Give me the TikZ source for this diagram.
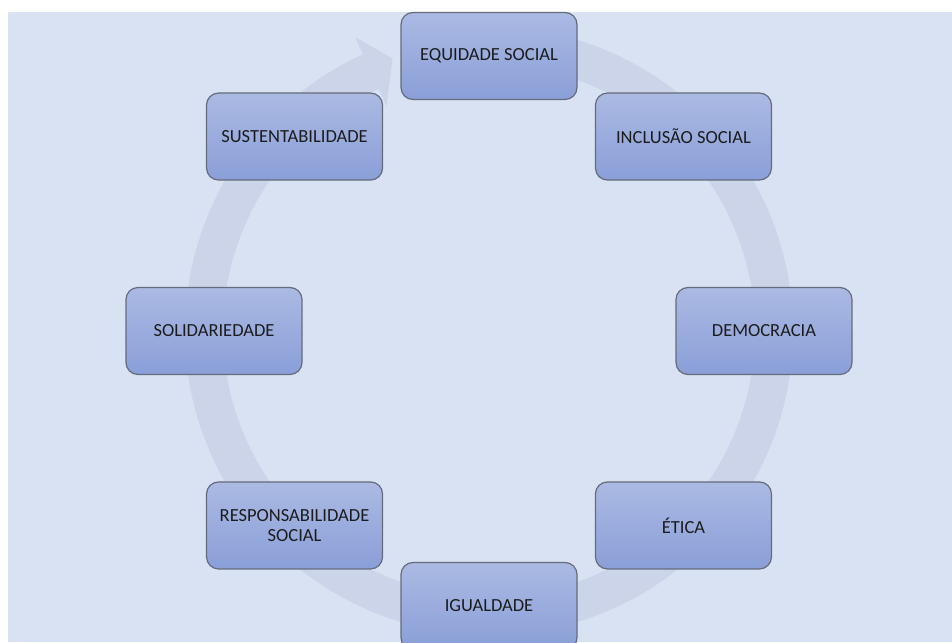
\documentclass[tikz,border=0pt]{standalone}
\usepackage{fontspec}
\setmainfont{Carlito}
\definecolor{bgc}{HTML}{D9E2F2}
\definecolor{ringc}{HTML}{CCD4EA}
\definecolor{boxtop}{HTML}{ABBAE3}
\definecolor{boxbot}{HTML}{8A9FD8}
\definecolor{boxline}{HTML}{646C7C}
\definecolor{txtc}{HTML}{1C1C1C}
\begin{document}
\begin{tikzpicture}[x=1pt,y=1pt,
  item/.style={draw=boxline, line width=1.2pt, rounded corners=12pt,
    top color=boxtop, bottom color=boxbot,
    minimum width=176pt, minimum height=87pt, inner sep=2pt,
    align=center, text=txtc, font=\fontsize{18.5}{20}\selectfont}]
\useasboundingbox (0,0) rectangle (952,642);
\clip (0,0) rectangle (952,642);
\fill[white] (0,0) rectangle (952,642);
\fill[bgc] (8,0) rectangle (952,630);
\coordinate (C) at (489,311);
% circular arrow
\fill[ringc] ([shift={(489,311)}]85:304) arc[start angle=85, end angle=-245.5, radius=304]
  -- ([shift={(489,311)}]-245.5:323)
  -- ([shift={(489,311)}]-250.5:289)
  -- ([shift={(489,311)}]-245.5:247)
  -- ([shift={(489,311)}]-245.5:266)
  arc[start angle=-245.5, end angle=85, radius=266] -- cycle;
% boxes
\node[item] (eq)  at ([shift={(C)}]90:275)  {EQUIDADE SOCIAL};
\node[item] (inc) at ([shift={(C)}]45:275)  {INCLUSÃO SOCIAL};
\node[item] (dem) at ([shift={(C)}]0:275)   {DEMOCRACIA};
\node[item] (eti) at ([shift={(C)}]-45:275) {ÉTICA};
\node[item] (igu) at ([shift={(C)}]-90:275) {IGUALDADE};
\node[item] (res) at ([shift={(C)}]-135:275) {RESPONSABILIDADE\\SOCIAL};
\node[item] (sol) at ([shift={(C)}]180:275) {SOLIDARIEDADE};
\node[item] (sus) at ([shift={(C)}]135:275) {SUSTENTABILIDADE};
\end{tikzpicture}
\end{document}
